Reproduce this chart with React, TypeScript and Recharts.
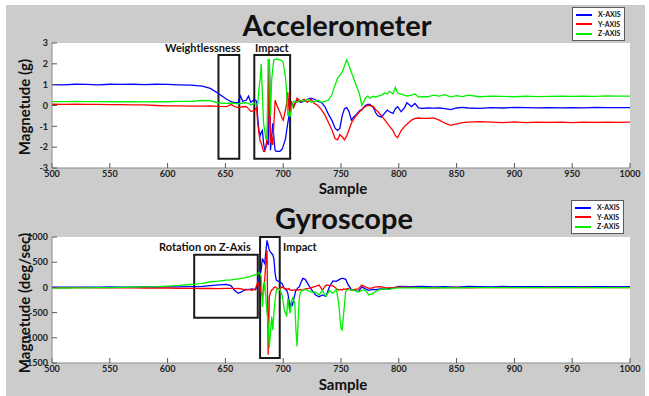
import React from "react";
import {
  LineChart,
  Line,
  XAxis,
  YAxis,
  CartesianGrid,
  ReferenceArea,
  Legend,
} from "recharts";

const FONT = "Lato, 'Open Sans', sans-serif";

const SAMPLE_TICKS = [500, 550, 600, 650, 700, 750, 800, 850, 900, 950, 1000];
const ACC_TICKS = [-3, -2, -1, 0, 1, 2, 3];
const GYRO_TICKS = [-1500, -1000, -500, 0, 500, 1000];

// accelerometer (g)
const ACC_SAMPLES = [
  500, 510, 520, 530, 540, 550, 560, 570, 580, 590, 600, 610, 620, 630,
  637, 644, 651, 655, 658, 661, 663, 665, 668, 670, 672, 675, 677,
  678, 679, 680, 681, 682, 683, 684, 685, 686, 687, 688, 689, 690, 691, 692, 693, 694, 695, 697, 699, 700, 702, 703, 704, 705, 706, 707, 709,
  712, 715, 718, 721, 724, 727, 730, 733, 736, 739, 742, 745, 747, 749, 751, 753, 755, 757, 759, 761, 763, 766, 768, 771, 773, 775, 778, 780, 782, 785, 788, 790, 792, 795, 797, 799, 802, 805, 807, 811, 814, 817, 820,
  825, 830, 835, 840, 845, 850, 855, 860, 870, 880, 890, 900, 910, 920, 930, 940, 950, 960, 970, 980, 990, 1000,
];
const ACC_X = [
  1.0, 0.99, 1.02, 1.01, 0.99, 1.02, 1.01, 1.02, 1.0, 1.02, 1.01, 0.99, 0.98, 0.93,
  0.82, 0.58, 0.3, 0.18, 0.14, 0.15, 0.46, 0.2, 0.25, 0.45, 0.15, 0.3, 0.2,
  -0.6, -1.2, -1.45, -1.3, -1.2, -1.8, -2.15, -2.0, -1.7, -1.9, 2.2, -2.15, -1.5, -0.85, -1.6, -2.15, -2.2, -2.2, -2.2, -2.1, -1.95, -1.6, -1.2, -0.85, -0.5, -0.06, 0.1, 0.0,
  0.25, 0.15, 0.2, 0.3, 0.35, 0.3, 0.2, 0.15, -0.05, -0.4, -0.7, -1.1, -1.2, -1.1, -0.5, -0.15, -0.1, -0.3, -0.7, -0.55, -0.45, -0.25, -0.2, 0.0, 0.05, 0.05, -0.1, -0.35, -0.5, -0.55, -0.35, -0.22, -0.3, -0.38, -0.15, -0.06, -0.3, -0.1, 0.13, -0.05, 0.1, -0.12, -0.14,
  -0.12, -0.13, -0.12, -0.15, -0.2, -0.12, -0.09, -0.12, -0.14, -0.1, -0.12, -0.09, -0.1, -0.11, -0.1, -0.11, -0.1, -0.11, -0.09, -0.1, -0.1, -0.1,
];
const ACC_Y = [
  0.06, 0.05, 0.06, 0.05, 0.05, 0.04, 0.04, 0.03, 0.03, 0.0, -0.02, -0.02, -0.03, -0.03,
  -0.02, -0.04, -0.05, 0.05, -0.05, -0.1, -0.08, -0.06, -0.05, -0.15, -0.28, -0.25, -0.1,
  -0.9, -1.3, -1.7, -1.8, -2.0, -2.2, -2.2, -2.0, -1.6, -0.5, 2.0, -1.8, -1.5, -1.9, -0.8, 0.25, 0.1, -0.06, -0.3, -0.6, -0.7, -0.2, 0.1, 0.65, -0.2, -0.5, 0.2, -0.1,
  0.35, 0.2, 0.3, 0.15, 0.3, 0.1, 0.0, -0.2, -0.45, -0.8, -1.15, -1.6, -1.65, -1.4, -1.5, -1.65, -1.45, -1.15, -0.85, -0.65, -0.5, -0.3, -0.2, -0.05, 0.0, 0.0, -0.05, -0.2, -0.3, -0.5, -0.7, -0.85, -1.0, -1.2, -1.45, -1.55, -1.2, -1.0, -0.9, -0.7, -0.62, -0.6, -0.62,
  -0.62, -0.6, -0.7, -0.85, -0.95, -0.88, -0.82, -0.8, -0.77, -0.8, -0.82, -0.79, -0.82, -0.8, -0.81, -0.8, -0.82, -0.8, -0.81, -0.8, -0.81, -0.8,
];
const ACC_Z = [
  0.19, 0.19, 0.2, 0.19, 0.19, 0.18, 0.18, 0.19, 0.17, 0.18, 0.18, 0.2, 0.2, 0.24,
  0.23, 0.12, 0.1, 0.12, 0.1, 0.08, 0.1, 0.12, 0.14, 0.1, 0.02, 0.1, 0.05,
  0.1, 0.8, 1.2, 2.0, 0.5, -0.85, -1.2, -1.6, -1.6, 2.2, 2.2, -0.5, 1.2, 1.8, 2.2, 2.2, 2.25, 2.2, 2.2, 2.15, 2.05, 1.35, 0.6, -0.5, -0.3, -0.55, -0.2, 0.2,
  0.15, 0.25, 0.2, 0.3, 0.15, 0.2, 0.25, 0.15, 0.2, 0.25, 0.5, 1.0, 1.3, 1.45, 1.6, 1.9, 2.2, 1.9, 1.6, 1.3, 1.0, 0.55, 0.0, 0.35, 0.45, 0.35, 0.45, 0.4, 0.45, 0.5, 0.6, 0.55, 0.68, 0.55, 0.87, 0.6, 0.55, 0.5, 0.45, 0.5, 0.55, 0.4, 0.42,
  0.42, 0.5, 0.45, 0.52, 0.4, 0.47, 0.43, 0.5, 0.42, 0.45, 0.44, 0.42, 0.45, 0.43, 0.44, 0.45, 0.44, 0.45, 0.44, 0.46, 0.45, 0.45,
];

// gyroscope (deg/sec)
const GYRO_SAMPLES = [
  500, 510, 520, 530, 540, 550, 560, 570, 580, 590, 600, 610, 620,
  625, 630, 637, 644, 651, 655, 658, 661, 664, 667, 670, 673, 676, 678, 679,
  680, 681, 682, 683, 684, 685, 686, 687, 688, 689, 690, 691, 692, 693, 694, 695, 697, 699, 701, 703, 704, 705, 706, 707, 708, 709, 710, 711, 712, 713, 714, 715, 717,
  719, 722, 725, 728, 731, 734, 737, 740, 743, 746, 748, 750, 751, 752, 754, 756, 759, 762, 765, 768, 771, 774, 777, 780, 784, 788, 792, 796, 800,
  810, 820, 830, 840, 850, 860, 870, 880, 890, 900, 910, 920, 930, 940, 950, 960, 970, 980, 990, 1000,
];
const GYRO_X = [
  5, 3, 6, 4, 5, 8, 5, 6, 10, 8, 10, 12, 15,
  15, 20, 35, 50, 60, 30, -60, -118, -90, -40, -45, -30, -45, 45, 145,
  277, 350, 574, 520, 475, 700, 935, 836, 737, 700, 672, 650, 560, 277, 145, 130, 112, 80, -20, -60, -118, -250, -447, -300, -350, -250, -150, -53, -30, 0, 12, 80, 178,
  160, 45, -60, -150, -185, -150, -180, 12, 130, 120, 150, 175, 180, 178, 160, 60, -45, -60, -85, 10, -30, -60, -40, -45, -30, -35, -20, -5, 20,
  15, 20, 10, 15, 5, 20, 15, 12, 18, 15, 14, 16, 15, 14, 16, 15, 15, 14, 16, 15,
];
const GYRO_Y = [
  -5, -8, -6, -5, -7, -8, -6, -10, -12, -15, -12, -18, -20,
  -20, -22, -20, -25, -20, -18, -25, -20, -30, -53, -40, -60, -30, 112, 45,
  20, -100, -185, 0, 145, 500, 737, -1335, -185, -100, -53, -40, 0, 12, -10, -20, -25, 10, -20, -30, -40, -20, -53, -50, -60, -55, -50, -55, -50, -53, -40, -45, -53,
  -30, -20, 0, 20, 45, -53, 45, 40, 30, -20, -53, -40, -50, -30, -40, -20, -53, -40, -30, 45, 10, -20, -10, 12, 15, -5, -10, -5, 5,
  0, -5, -10, -3, 0, -8, -5, -3, -2, -5, -4, -3, -2, -4, -3, -2, -3, -4, -2, -3,
];
const GYRO_Z = [
  -15, -12, -10, -8, -5, -3, 0, 5, 10, 15, 26, 40, 58,
  65, 80, 112, 125, 145, 150, 160, 170, 180, 190, 210, 230, 255, 277, 290,
  270, 211, -382, -100, 112, -200, -513, -710, -1203, -900, -580, -842, -500, -250, -53, -30, -40, -150, -447, -580, -217, -400, -513, -300, -217, -260, -300, -842, -1171, -600, -200, -85, -60,
  -40, -70, -100, -90, -150, -60, -180, -60, -120, -40, -315, -810, -842, -600, -85, -40, -50, -60, -90, -60, -50, -150, -130, -80, -40, -30, -40, -20, -10,
  -10, -5, -8, -5, -10, -6, -4, -5, -6, -5, -4, -6, -5, -4, -5, -6, -5, -4, -5, -5,
];

const rows = (s: number[], x: number[], y: number[], z: number[]) =>
  s.map((sample, i) => ({ sample, x: x[i], y: y[i], z: z[i] }));

const accData = rows(ACC_SAMPLES, ACC_X, ACC_Y, ACC_Z);
const gyroData = rows(GYRO_SAMPLES, GYRO_X, GYRO_Y, GYRO_Z);

const tickStyle = { fontSize: 9, fontWeight: 700, fill: "#222", fontFamily: FONT };

function BoxLegend(props: any) {
  const items = props.payload || [];
  return (
    <div
      style={{
        border: "1px solid #5a5a5a",
        background: "#fff",
        padding: "2px 3px 1px 3px",
        width: 45,
        fontFamily: FONT,
      }}
    >
      {items.map((p: any) => (
        <div key={p.value} style={{ display: "flex", alignItems: "center", height: 9.5 }}>
          <span style={{ width: 16, height: 2, background: p.color, marginRight: 6 }} />
          <span style={{ fontSize: 7, fontWeight: 700, color: "#111", lineHeight: "9px" }}>{p.value}</span>
        </div>
      ))}
    </div>
  );
}

export default function App() {
  const lines = (
    [
      ["x", "X-AXIS", "#0000ff"],
      ["y", "Y-AXIS", "#ff0000"],
      ["z", "Z-AXIS", "#00f000"],
    ] as const
  ).map(([key, name, color]) => (
    <Line
      key={key}
      dataKey={key}
      name={name}
      stroke={color}
      strokeWidth={1.3}
      dot={false}
      type="linear"
      isAnimationActive={false}
    />
  ));

  const xAxis = (h: number) => (
    <XAxis
      dataKey="sample"
      type="number"
      domain={[500, 1000]}
      ticks={SAMPLE_TICKS}
      interval={0}
      height={h}
      tickSize={-5}
      tickMargin={8}
      tick={tickStyle}
      axisLine={{ stroke: "#8a8a8a" }}
      tickLine={{ stroke: "#555" }}
      allowDataOverflow
    />
  );

  return (
    <div style={{ position: "absolute", left: 0, top: 0, width: 649, height: 396, background: "#fff" }}>
      <div style={{ position: "absolute", left: 6, top: 5, width: 639, height: 391, background: "#cccccc" }} />

      <div style={{ position: "absolute", left: 0, top: 0 }}>
        <LineChart width={649} height={198} data={accData} margin={{ top: 43, right: 19, bottom: 0, left: 0 }}>
          <CartesianGrid horizontal={false} vertical={false} fill="#ffffff" />
          {xAxis(30)}
          <YAxis
            domain={[-3, 3]}
            ticks={ACC_TICKS}
            interval={0}
            width={52}
            tickSize={-5}
            tickMargin={9}
            tick={tickStyle}
            axisLine={{ stroke: "#8a8a8a" }}
            tickLine={{ stroke: "#555" }}
            allowDataOverflow
          />
          {lines}
          <ReferenceArea x1={644} x2={662} y1={-2.55} y2={2.42} stroke="#1a1a1a" strokeWidth={2} fill="none" fillOpacity={0} ifOverflow="visible" />
          <ReferenceArea x1={675} x2={706} y1={-2.55} y2={2.42} stroke="#1a1a1a" strokeWidth={2} fill="none" fillOpacity={0} ifOverflow="visible" />
          <Legend
            layout="vertical"
            align="center"
            verticalAlign="middle"
            content={<BoxLegend />}
            wrapperStyle={{ position: "absolute", top: 7, left: 572, width: 52 }}
          />
        </LineChart>
      </div>

      <div style={{ position: "absolute", left: 0, top: 196 }}>
        <LineChart width={649} height={200} data={gyroData} margin={{ top: 41, right: 19, bottom: 0, left: 0 }}>
          <CartesianGrid horizontal={false} vertical={false} fill="#ffffff" />
          {xAxis(33)}
          <YAxis
            domain={[-1500, 1000]}
            ticks={GYRO_TICKS}
            interval={0}
            width={52}
            tickSize={-5}
            tickMargin={9}
            tick={tickStyle}
            axisLine={{ stroke: "#8a8a8a" }}
            tickLine={{ stroke: "#555" }}
            allowDataOverflow
          />
          {lines}
          <ReferenceArea x1={623} x2={678} y1={-600} y2={650} stroke="#1a1a1a" strokeWidth={2} fill="none" fillOpacity={0} ifOverflow="visible" />
          <ReferenceArea x1={680} x2={697} y1={-1400} y2={1000} stroke="#1a1a1a" strokeWidth={2} fill="none" fillOpacity={0} ifOverflow="visible" />
          <Legend
            layout="vertical"
            align="center"
            verticalAlign="middle"
            content={<BoxLegend />}
            wrapperStyle={{ position: "absolute", top: 4, left: 571, width: 52 }}
          />
        </LineChart>
      </div>

      <svg
        width={649}
        height={396}
        style={{ position: "absolute", left: 0, top: 0, pointerEvents: "none" }}
        fontFamily={FONT}
        fontWeight={700}
        fill="#111"
      >
        <text x={337} y={36} fontSize={29} textAnchor="middle">Accelerometer</text>
        <text x={344} y={229} fontSize={29} textAnchor="middle">Gyroscope</text>
        <text x={165} y={52} fontSize={11}>Weightlessness</text>
        <text x={255} y={52} fontSize={11}>Impact</text>
        <text x={159} y={251} fontSize={11}>Rotation on Z-Axis</text>
        <text x={283} y={251} fontSize={11}>Impact</text>
        <text x={343} y={194} fontSize={15} textAnchor="middle">Sample</text>
        <text x={343} y={390} fontSize={15} textAnchor="middle">Sample</text>
        <text transform="translate(30,107) rotate(-90)" fontSize={15} textAnchor="middle">Magnetude (g)</text>
        <text transform="translate(30,303) rotate(-90)" fontSize={15} textAnchor="middle">Magnetude (deg/sec)</text>
      </svg>
    </div>
  );
}
